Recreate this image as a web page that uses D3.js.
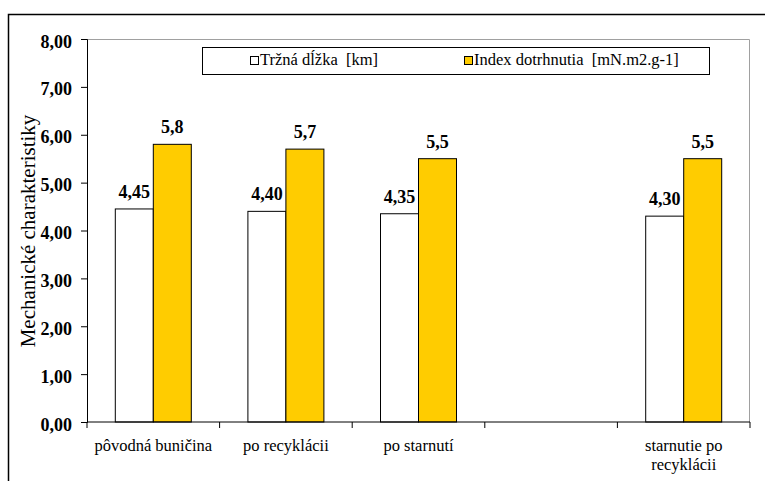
<!DOCTYPE html>
<html>
<head>
<meta charset="utf-8">
<script src="https://cdn.jsdelivr.net/npm/d3@7"></script>
<style>
  html, body { margin: 0; padding: 0; background: #fff; }
  svg text { font-family: "Liberation Serif", "Times New Roman", serif; }
</style>
</head>
<body>
<svg id="chart" width="765" height="481"></svg>
<script>
// Categories (the fourth slot is intentionally left empty)
const categories = ["pôvodná buničina", "po recyklácii", "po starnutí", "", "starnutie po recyklácii"];
const seriesNames = ["Tržná dĺžka  [km]", "Index dotrhnutia  [mN.m2.g-1]"];
const tensileLength = [4.45, 4.40, 4.35, null, 4.30];
const tearIndex = [5.8, 5.7, 5.5, null, 5.5];
const valueLabels1 = ["4,45", "4,40", "4,35", "", "4,30"];
const valueLabels2 = ["5,8", "5,7", "5,5", "", "5,5"];
const yTicks = [0, 1, 2, 3, 4, 5, 6, 7, 8];
const yTitle = "Mechanické charakteristiky";

const colors = ["#ffffff", "#ffcc00"];

const svg = d3.select("#chart");
const margin = { left: 87, right: 15, top: 39, bottom: 59 };
const W = 765, H = 481;
const plotW = W - margin.left - margin.right;
const plotH = H - margin.top - margin.bottom;

// Outer chart frame (runs off the right and bottom edges)
svg.append("path")
  .attr("d", `M8.5,${H + 2} V14.5 H${W + 2}`)
  .attr("fill", "none").attr("stroke", "#000").attr("stroke-width", 1.5);

const g = svg.append("g").attr("transform", `translate(${margin.left},${margin.top})`);

const x0 = d3.scaleBand().domain(d3.range(categories.length)).range([0, plotW]);
const barW = 38;
const y = d3.scaleLinear().domain([0, 8]).range([plotH, 0]);

// Plot area border (top and right)
g.append("path")
  .attr("d", `M0,0.5 H${plotW - 0.5} V${plotH}`)
  .attr("fill", "none").attr("stroke", "#a0a0a0").attr("stroke-width", 1);

// Bars with value labels
const rows = categories.map((c, i) => ({ i, vals: [tensileLength[i], tearIndex[i]], labs: [valueLabels1[i], valueLabels2[i]] }));
rows.forEach(r => {
  const cx = x0(r.i) + x0.bandwidth() / 2;
  r.vals.forEach((v, k) => {
    if (v == null) return;
    const bx = cx - barW + k * barW;
    g.append("rect")
      .attr("x", bx).attr("y", y(v))
      .attr("width", barW).attr("height", y(0) - y(v))
      .attr("fill", colors[k]).attr("stroke", "#000").attr("stroke-width", 1);
    g.append("text")
      .attr("x", bx + barW / 2).attr("y", y(v) - 11)
      .attr("text-anchor", "middle")
      .attr("font-size", 18).attr("font-weight", "bold")
      .text(r.labs[k]);
  });
});

// Y axis
const yAxis = d3.axisLeft(y).tickValues(yTicks).tickSize(6).tickPadding(9)
  .tickFormat(d => d3.format(".2f")(d).replace(".", ","));
const ya = g.append("g").call(yAxis);
ya.select(".domain").attr("stroke", "#000");
ya.selectAll(".tick line").attr("stroke", "#000");
ya.selectAll("text").attr("font-size", 18).attr("font-weight", "bold")
  .attr("fill", "#000").attr("dy", 8);

// X axis with slot-boundary ticks
const xEdges = d3.range(categories.length + 1).map(i => i * x0.step());
const xa = g.append("g").attr("transform", `translate(0,${plotH})`);
xa.append("line").attr("x1", 0).attr("x2", plotW).attr("stroke", "#000");
xa.selectAll(".xt").data(xEdges).join("line")
  .attr("x1", d => d).attr("x2", d => d).attr("y1", 0).attr("y2", 6)
  .attr("stroke", "#000");

// Category labels, wrapped when too long for one slot
categories.forEach((c, i) => {
  const cx = x0(i) + x0.bandwidth() / 2;
  const lines = c === "starnutie po recyklácii" ? ["starnutie po", "recyklácii"] : [c];
  const t = xa.append("text").attr("text-anchor", "middle")
    .attr("font-size", 16.5).attr("fill", "#000");
  lines.forEach((ln, j) => {
    t.append("tspan").attr("x", cx).attr("y", 29 + j * 19).text(ln);
  });
});

// Y axis title
svg.append("text")
  .attr("transform", `translate(35,231) rotate(-90)`)
  .attr("text-anchor", "middle")
  .attr("font-size", 21)
  .text(yTitle);

// Legend
const leg = svg.append("g");
leg.append("rect").attr("x", 202.5).attr("y", 47.5).attr("width", 507).attr("height", 27)
  .attr("fill", "#fff").attr("stroke", "#000").attr("stroke-width", 1);
const legX = [250, 464];
seriesNames.forEach((n, k) => {
  leg.append("rect").attr("x", legX[k] + 0.5).attr("y", 56.5).attr("width", 8).attr("height", 8)
    .attr("fill", colors[k]).attr("stroke", "#000");
  leg.append("text").attr("x", legX[k] + 10).attr("y", 65)
    .attr("font-size", 16.5)
    .style("white-space", "pre").text(n);
});
</script>
</body>
</html>
